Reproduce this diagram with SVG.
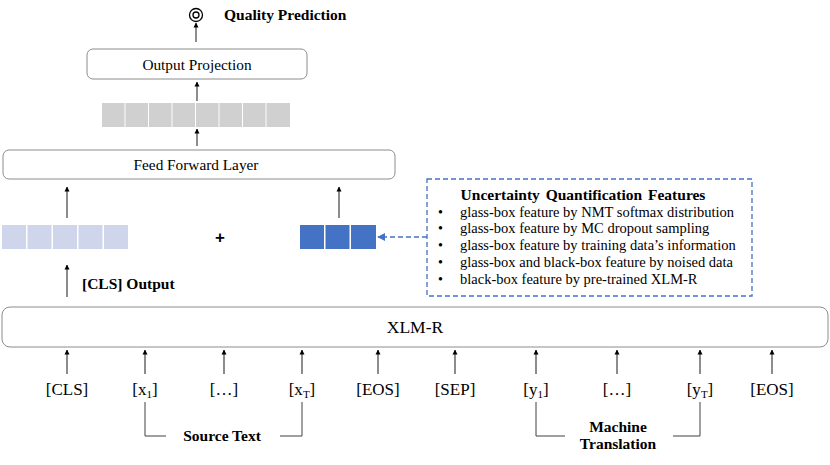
<svg xmlns="http://www.w3.org/2000/svg" width="830" height="465" viewBox="0 0 830 465">
<defs>
<marker id="ah" viewBox="0 0 10 10" refX="9" refY="5" markerWidth="5" markerHeight="6" orient="auto" markerUnits="userSpaceOnUse">
<path d="M0,0 L10,5 L0,10 z" fill="#000"/>
</marker>
<marker id="ahb" viewBox="0 0 10 10" refX="9" refY="5" markerWidth="8" markerHeight="8" orient="auto" markerUnits="userSpaceOnUse">
<path d="M0,0 L10,5 L0,10 z" fill="#4472C4"/>
</marker>
<style>
.t{font-family:"Liberation Serif","Times New Roman",serif;fill:#000}
.b{font-weight:bold}
.box{fill:#fff;stroke:#8c8c8c;stroke-width:1}
.ar{stroke:#404040;stroke-width:1.2;fill:none;marker-end:url(#ah)}
.ln{stroke:#404040;stroke-width:1;fill:none}
.g{fill:#d0d0d0}
.lb{fill:#cfd5ea}
.db{fill:#4472c4}
</style>
</defs>
<g id="quality">
<circle cx="196" cy="15" r="6.5" fill="none" stroke="#000" stroke-width="1.3"/>
<circle cx="196" cy="15" r="3" fill="none" stroke="#000" stroke-width="1.3"/>
<text class="t b" x="224" y="20" font-size="15.5">Quality Prediction</text>
</g>
<g id="output-projection">
<rect class="box" x="87" y="49" width="220" height="30" rx="6"/>
<text class="t" x="197" y="70" font-size="15.3" text-anchor="middle">Output Projection</text>
</g>
<g id="gray-vector">
<rect class="g" x="102" y="103" width="22.5" height="24"/>
<rect class="g" x="125.5" y="103" width="22.5" height="24"/>
<rect class="g" x="149" y="103" width="22.5" height="24"/>
<rect class="g" x="172.5" y="103" width="22.5" height="24"/>
<rect class="g" x="196" y="103" width="22.5" height="24"/>
<rect class="g" x="219.5" y="103" width="22.5" height="24"/>
<rect class="g" x="243" y="103" width="22.5" height="24"/>
<rect class="g" x="266.5" y="103" width="23.5" height="24"/>
</g>
<g id="feed-forward">
<rect class="box" x="3" y="150" width="392" height="29" rx="6"/>
<text class="t" x="196" y="170" font-size="15.3" text-anchor="middle">Feed Forward Layer</text>
</g>
<g id="cls-vector">
<rect class="lb" x="2" y="225" width="24" height="24"/>
<rect class="lb" x="27.5" y="225" width="24" height="24"/>
<rect class="lb" x="53" y="225" width="24" height="24"/>
<rect class="lb" x="78.5" y="225" width="24" height="24"/>
<rect class="lb" x="104" y="225" width="24" height="24"/>
</g>
<g id="plus"><text class="t b" x="220" y="243" font-size="17" text-anchor="middle" style="font-family:'Liberation Sans',Arial,sans-serif">+</text></g>
<g id="uq-vector">
<rect class="db" x="300" y="225" width="24" height="24"/>
<rect class="db" x="325.5" y="225" width="24" height="24"/>
<rect class="db" x="351" y="225" width="25" height="24"/>
</g>
<g id="cls-output-label"><text class="t b" x="82" y="289" font-size="15.5">[CLS] Output</text></g>
<g id="uq-box">
<rect x="427" y="179" width="325" height="117" fill="#fff" stroke="#4472c4" stroke-width="1.3" stroke-dasharray="5,3"/>
<text class="t b" x="583" y="200" font-size="15.5" text-anchor="middle" word-spacing="2">Uncertainty Quantification Features</text>
<text class="t" x="438" y="217" font-size="14">•</text><text class="t" x="460" y="217" font-size="14.5">glass-box feature by NMT softmax distribution</text>
<text class="t" x="438" y="233" font-size="14">•</text><text class="t" x="460" y="233" font-size="14.5">glass-box feature by MC dropout sampling</text>
<text class="t" x="438" y="250" font-size="14">•</text><text class="t" x="460" y="250" font-size="14.5">glass-box feature by training data’s information</text>
<text class="t" x="438" y="267" font-size="14">•</text><text class="t" x="460" y="267" font-size="14.5">glass-box and black-box feature by noised data</text>
<text class="t" x="438" y="284" font-size="14">•</text><text class="t" x="460" y="284" font-size="14.5">black-box feature by pre-trained XLM-R</text>
</g>
<g id="xlmr">
<rect class="box" x="2" y="307" width="826" height="40" rx="8"/>
<text class="t" x="415" y="333" font-size="17.5" text-anchor="middle">XLM-R</text>
</g>
<g id="tokens">
<text class="t" x="67" y="395" font-size="17" text-anchor="middle">[CLS]</text>
<text class="t" x="145" y="395" font-size="17" text-anchor="middle">[x<tspan font-size="11" dy="3">1</tspan><tspan dy="-3">]</tspan></text>
<text class="t" x="224" y="395" font-size="17" text-anchor="middle">[…]</text>
<text class="t" x="302" y="395" font-size="17" text-anchor="middle">[x<tspan font-size="11" dy="3">T</tspan><tspan dy="-3">]</tspan></text>
<text class="t" x="378" y="395" font-size="17" text-anchor="middle">[EOS]</text>
<text class="t" x="455" y="395" font-size="17" text-anchor="middle">[SEP]</text>
<text class="t" x="536" y="395" font-size="17" text-anchor="middle">[y<tspan font-size="11" dy="3">1</tspan><tspan dy="-3">]</tspan></text>
<text class="t" x="617" y="395" font-size="17" text-anchor="middle">[…]</text>
<text class="t" x="700" y="395" font-size="17" text-anchor="middle">[y<tspan font-size="11" dy="3">T</tspan><tspan dy="-3">]</tspan></text>
<text class="t" x="772" y="395" font-size="17" text-anchor="middle">[EOS]</text>
</g>
<g id="source-text">
<text class="t b" x="222" y="441" font-size="15.5" text-anchor="middle">Source Text</text>
</g>
<g id="machine-translation">
<text class="t b" x="618" y="432" font-size="15.5" text-anchor="middle">Machine</text>
<text class="t b" x="618" y="449" font-size="15.5" text-anchor="middle">Translation</text>
</g>
<g id="connectors">
<line class="ar" x1="196" y1="42" x2="196" y2="23"/>
<line class="ar" x1="197" y1="101" x2="197" y2="82"/>
<line class="ar" x1="197" y1="146" x2="197" y2="129"/>
<line class="ar" x1="67" y1="218" x2="67" y2="187"/>
<line class="ar" x1="339" y1="218" x2="339" y2="187"/>
<line class="ar" x1="67" y1="297" x2="67" y2="265"/>
<line x1="427" y1="237" x2="378" y2="237" stroke="#4472c4" stroke-width="1.3" stroke-dasharray="5,3" marker-end="url(#ahb)"/>
<line class="ar" x1="67" y1="374" x2="67" y2="350"/>
<line class="ar" x1="145" y1="374" x2="145" y2="350"/>
<line class="ar" x1="224" y1="374" x2="224" y2="350"/>
<line class="ar" x1="302" y1="374" x2="302" y2="350"/>
<line class="ar" x1="378" y1="374" x2="378" y2="350"/>
<line class="ar" x1="455" y1="374" x2="455" y2="350"/>
<line class="ar" x1="536" y1="374" x2="536" y2="350"/>
<line class="ar" x1="617" y1="374" x2="617" y2="350"/>
<line class="ar" x1="700" y1="374" x2="700" y2="350"/>
<line class="ar" x1="772" y1="374" x2="772" y2="350"/>
<polyline class="ln" points="145,402 145,436 166,436"/>
<polyline class="ln" points="280,436 302,436 302,402"/>
<polyline class="ln" points="536,402 536,436 565,436"/>
<polyline class="ln" points="673,436 700,436 700,402"/>
</g>
</svg>
